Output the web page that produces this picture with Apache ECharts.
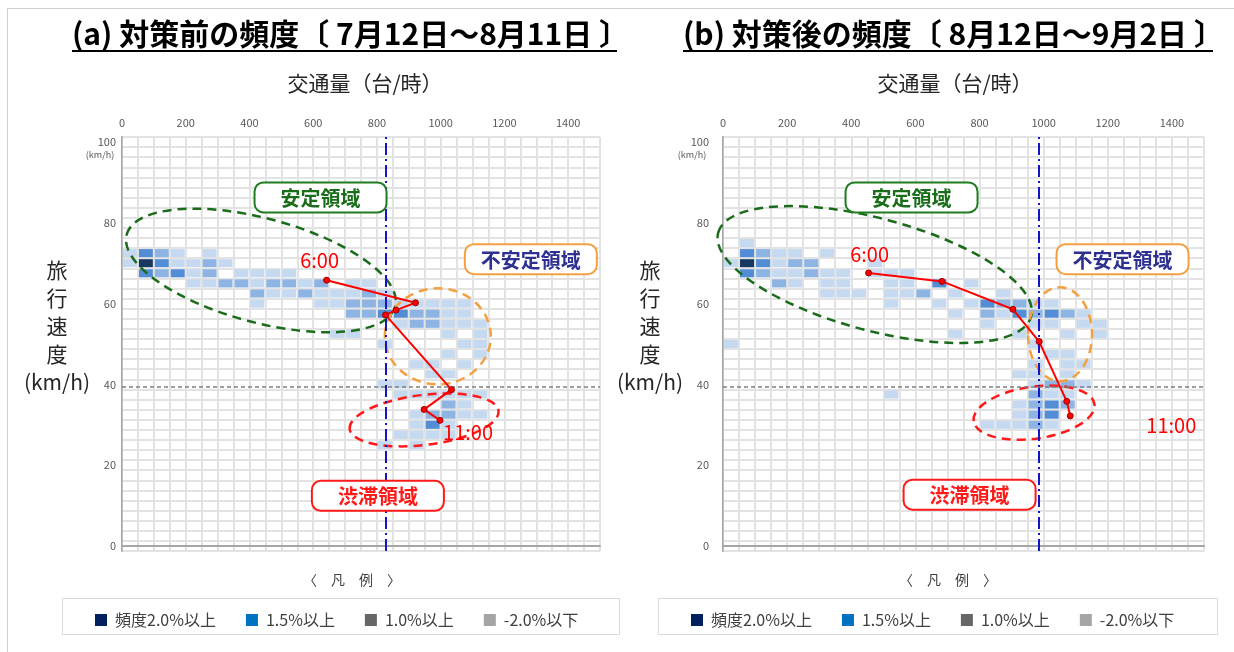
<!DOCTYPE html>
<html>
<head>
<meta charset="utf-8">
<script src="https://cdn.jsdelivr.net/npm/echarts@6/dist/echarts.min.js"></script>
<style>
  html, body { margin: 0; padding: 0; background: #fff; }
  #main { width: 1234px; height: 652px; }
</style>
</head>
<body>
<div id="main"></div>
<script>
var chartDom = document.getElementById('main');
var myChart = echarts.init(chartDom);
var option;

var FONT = '"Noto Sans CJK JP", sans-serif';

// 目盛り
var flowTicks = [0, 200, 400, 600, 800, 1000, 1200, 1400];
var speedTicks = [0, 20, 40, 60, 80, 100];

// 頻度セル [交通量(階級中央), 旅行速度(階級中央), 濃さ 1-4]
var cellsBefore = [
  [25, 72.5, 1], [75, 72.5, 3], [125, 72.5, 2], [175, 72.5, 1], [275, 72.5, 1],
  [25, 70, 1], [75, 70, 4], [125, 70, 3], [175, 70, 1], [225, 70, 1], [275, 70, 2], [325, 70, 1],
  [75, 67.5, 3], [125, 67.5, 2], [175, 67.5, 3], [225, 67.5, 1], [275, 67.5, 2], [375, 67.5, 1], [425, 67.5, 1], [475, 67.5, 1], [525, 67.5, 1],
  [225, 65, 1], [275, 65, 1], [325, 65, 2], [375, 65, 2], [425, 65, 1], [475, 65, 2], [525, 65, 2], [575, 65, 1], [625, 65, 2], [725, 65, 1], [775, 65, 1],
  [425, 62.5, 2], [475, 62.5, 1], [525, 62.5, 1], [575, 62.5, 2], [625, 62.5, 1], [675, 62.5, 1], [725, 62.5, 1], [775, 62.5, 2], [825, 62.5, 1],
  [425, 60, 1], [625, 60, 1], [675, 60, 1], [725, 60, 2], [775, 60, 2], [825, 60, 2], [875, 60, 1], [925, 60, 1], [975, 60, 1], [1025, 60, 1], [1075, 60, 1],
  [725, 57.5, 2], [775, 57.5, 2], [825, 57.5, 3], [875, 57.5, 3], [925, 57.5, 2], [975, 57.5, 2], [1025, 57.5, 1], [1075, 57.5, 1],
  [875, 55, 1], [925, 55, 2], [975, 55, 2], [1025, 55, 1], [1075, 55, 1], [1125, 55, 1],
  [675, 52.5, 1], [725, 52.5, 1], [1025, 52.5, 1], [1125, 52.5, 1],
  [825, 50, 1], [1075, 50, 1], [1125, 50, 1],
  [1025, 47.5, 1], [1125, 47.5, 1],
  [925, 45, 1], [975, 45, 1], [1075, 45, 1],
  [975, 42.5, 1], [1025, 42.5, 1],
  [825, 40, 1], [875, 40, 1],
  [875, 37.5, 1], [925, 37.5, 1], [975, 37.5, 1], [1025, 37.5, 1], [1075, 37.5, 1], [1125, 37.5, 1],
  [1025, 35, 2], [1075, 35, 1],
  [925, 32.5, 1], [975, 32.5, 2], [1025, 32.5, 2], [1075, 32.5, 1], [1125, 32.5, 1],
  [925, 30, 1], [975, 30, 3], [1025, 30, 1],
  [875, 27.5, 1], [925, 27.5, 1], [975, 27.5, 1], [1025, 27.5, 1],
  [825, 25, 1], [925, 25, 1]
];

var cellsAfter = [
  [75, 75, 1],
  [75, 72.5, 3], [125, 72.5, 2], [175, 72.5, 1], [225, 72.5, 1], [325, 72.5, 1],
  [25, 70, 1], [75, 70, 4], [125, 70, 3], [175, 70, 1], [225, 70, 2], [275, 70, 2], [475, 70, 1],
  [75, 67.5, 3], [125, 67.5, 2], [175, 67.5, 1], [225, 67.5, 1], [275, 67.5, 2], [325, 67.5, 1], [375, 67.5, 1], [475, 67.5, 1], [525, 67.5, 1], [575, 67.5, 1],
  [175, 65, 2], [225, 65, 1], [325, 65, 1], [375, 65, 1], [525, 65, 1], [575, 65, 1], [675, 65, 3], [775, 65, 1],
  [325, 62.5, 1], [375, 62.5, 1], [425, 62.5, 1], [525, 62.5, 1], [575, 62.5, 1], [625, 62.5, 2], [725, 62.5, 1], [875, 62.5, 1],
  [525, 60, 1], [675, 60, 1], [775, 60, 1], [825, 60, 3], [875, 60, 2], [925, 60, 2], [975, 60, 1], [1025, 60, 1],
  [725, 57.5, 1], [825, 57.5, 2], [875, 57.5, 1], [925, 57.5, 3], [975, 57.5, 2], [1025, 57.5, 3], [1075, 57.5, 2], [1125, 57.5, 1],
  [825, 55, 1], [975, 55, 1], [1025, 55, 1], [1125, 55, 1], [1175, 55, 1],
  [725, 52.5, 1], [925, 52.5, 1], [1075, 52.5, 1], [1175, 52.5, 1],
  [25, 50, 1], [975, 50, 1],
  [1025, 47.5, 1], [1075, 47.5, 1],
  [975, 45, 1], [1075, 45, 1], [1125, 45, 1],
  [925, 42.5, 1], [975, 42.5, 1], [1075, 42.5, 1],
  [975, 40, 1], [1025, 40, 2], [1075, 40, 2], [1125, 40, 1],
  [525, 37.5, 1], [975, 37.5, 2], [1025, 37.5, 1], [1075, 37.5, 1],
  [925, 35, 1], [975, 35, 2], [1025, 35, 3], [1075, 35, 2],
  [925, 32.5, 1], [975, 32.5, 2], [1025, 32.5, 3],
  [825, 30, 1], [875, 30, 1], [925, 30, 1], [975, 30, 2], [1025, 30, 1]
];

// 6:00〜11:00 の推移 [交通量, 旅行速度]
var pathBefore = [[642, 65.8], [921, 60.2], [860, 58.4], [827, 57.2], [1034, 38.7], [948, 33.8], [998, 31.1]];
var pathAfter = [[454, 67.6], [683, 65.5], [904, 58.6], [986, 50.6], [1072, 35.8], [1083, 32.2]];
var pathLabels = ['6:00', '11:00'];

var capacityBefore = 827;
var capacityAfter = 985;
var congestionSpeed = 39.5;

var legendNames = ['頻度2.0%以上', '1.5%以上', '1.0%以上', '-2.0%以下'];
var legendColors = ['#002060', '#0070c0', '#666666', '#a5a5a5'];
var cellColors = [null, '#c5d9f1', '#8db4e2', '#538dd5', '#17375e'];

// 領域の囲み（中心は交通量・速度で指定）
var ellipsesBefore = [
  { flow: 436, speed: 68.2, rx: 139, ry: 52, angle: -15, color: '#1a6b1a' },
  { flow: 991, speed: 51.9, rx: 53, ry: 48, angle: 0, color: '#f5a040' },
  { flow: 948, speed: 31.2, rx: 75, ry: 25, angle: 7, color: '#ff1a1a' }
];
var ellipsesAfter = [
  { flow: 473, speed: 67.2, rx: 162, ry: 56, angle: -15, color: '#1a6b1a' },
  { flow: 1051, speed: 52.4, rx: 32, ry: 47, angle: 0, color: '#f5a040' },
  { flow: 970, speed: 33, rx: 61, ry: 26, angle: 8, color: '#ff1a1a' }
];
var regionsBefore = [
  { text: '安定領域', flow: 623, speed: 86.3, color: '#1a6e1a', border: '#1e7b1e' },
  { text: '不安定領域', flow: 1283, speed: 71, color: '#2e3192', border: '#f5a040' },
  { text: '渋滞領域', flow: 803, speed: 12.4, color: '#ff1a1a', border: '#ff1a1a' }
];
var regionsAfter = [
  { text: '安定領域', flow: 588, speed: 86.3, color: '#1a6e1a', border: '#1e7b1e' },
  { text: '不安定領域', flow: 1246, speed: 71, color: '#2e3192', border: '#f5a040' },
  { text: '渋滞領域', flow: 769, speed: 12.7, color: '#ff1a1a', border: '#ff1a1a' }
];

function cellSeries(cells, xi, yi) {
  return {
    type: 'custom', xAxisIndex: xi, yAxisIndex: yi, silent: true, z: 2,
    encode: { x: 0, y: 1 },
    data: cells,
    renderItem: function (params, api) {
      var x = api.value(0), v = api.value(1);
      var p1 = api.coord([x - 25, v + 1.25]);
      var p2 = api.coord([x + 25, v - 1.25]);
      return {
        type: 'rect',
        shape: { x: p1[0] + 1, y: p1[1] + 1, width: p2[0] - p1[0] - 2, height: p2[1] - p1[1] - 2 },
        style: { fill: cellColors[api.value(2)] }
      };
    }
  };
}

function ellipseSeries(list, xi, yi) {
  return {
    type: 'custom', xAxisIndex: xi, yAxisIndex: yi, silent: true, z: 5,
    encode: { x: 0, y: 1 },
    data: list.map(function (e) { return [e.flow, e.speed]; }),
    renderItem: function (params, api) {
      var e = list[params.dataIndex];
      var c = api.coord([api.value(0), api.value(1)]);
      return {
        type: 'ellipse', x: c[0], y: c[1], rotation: e.angle * Math.PI / 180,
        shape: { cx: 0, cy: 0, rx: e.rx, ry: e.ry },
        style: { fill: 'none', stroke: e.color, lineWidth: 2.5, lineDash: [9, 6] }
      };
    }
  };
}

function regionSeries(list, xi, yi) {
  return {
    type: 'custom', xAxisIndex: xi, yAxisIndex: yi, silent: true, z: 7,
    encode: { x: 0, y: 1 },
    data: list.map(function (r) { return [r.flow, r.speed]; }),
    renderItem: function (params, api) {
      var r = list[params.dataIndex];
      var c = api.coord([api.value(0), api.value(1)]);
      return {
        type: 'group', x: c[0], y: c[1],
        children: [
          { type: 'rect', shape: { x: -66, y: -15, width: 132, height: 30, r: 9 },
            style: { fill: '#fff', stroke: r.border, lineWidth: 2 } },
          { type: 'text',
            style: { text: r.text, x: 0, y: 1, align: 'center', verticalAlign: 'middle',
                     textAlign: 'center', textVerticalAlign: 'middle',
                     fill: r.color, fontSize: 20, fontWeight: 'bold', fontFamily: FONT } }
        ]
      };
    }
  };
}

function pathSeries(path, xi, yi, offsets, vline) {
  return {
    type: 'line', xAxisIndex: xi, yAxisIndex: yi, silent: true, z: 6,
    symbol: 'circle', symbolSize: 6,
    lineStyle: { color: '#ff0000', width: 2 },
    itemStyle: { color: '#ff0000', borderColor: '#9a0000', borderWidth: 1 },
    data: path.map(function (p, i) {
      var item = { value: p };
      var last = path.length - 1;
      if (i === 0 || i === last) {
        item.label = {
          show: true, position: 'inside', offset: i === 0 ? offsets[0] : offsets[1],
          formatter: i === 0 ? pathLabels[0] : pathLabels[1],
          color: '#ff0000', fontSize: 20, fontFamily: FONT
        };
      }
      return item;
    }),
    markLine: {
      silent: true, symbol: 'none', label: { show: false }, z: 6,
      data: [
        { xAxis: vline, lineStyle: { color: '#1414c8', width: 2, type: [12, 4, 2, 4] } },
        { yAxis: congestionSpeed, lineStyle: { color: '#7f7f7f', width: 1.5, type: [4, 3] } }
      ]
    }
  };
}

function xTop(gi) {
  return {
    gridIndex: gi, type: 'value', position: 'top', min: 0, max: 1500, interval: 50,
    axisLine: { show: false }, axisTick: { show: false },
    axisLabel: { customValues: flowTicks, margin: 9, color: '#595959', fontSize: 11, fontFamily: FONT,
                 formatter: function (v) { return String(v); } },
    splitLine: { show: true, lineStyle: { color: '#e3e3e3', width: 2 } }
  };
}
function xBottom(gi) {
  return {
    gridIndex: gi, type: 'value', position: 'bottom', min: 0, max: 1500,
    axisLine: { show: true, lineStyle: { color: '#a6a6a6', width: 2 } },
    axisTick: { show: false }, axisLabel: { show: false }, splitLine: { show: false }
  };
}
function yLeft(gi, margin) {
  return {
    gridIndex: gi, type: 'value', position: 'left', min: -1.25, max: 101.25, interval: 2.5,
    axisLine: { show: true, lineStyle: { color: '#a6a6a6', width: 2 } },
    axisTick: { show: false },
    axisLabel: { customValues: speedTicks, margin: margin, color: '#595959', fontSize: 11, fontFamily: FONT },
    splitLine: { show: true, lineStyle: { color: '#e3e3e3', width: 2 } }
  };
}
function yRight(gi) {
  return {
    gridIndex: gi, type: 'value', position: 'right', min: -1.25, max: 101.25,
    axisLine: { show: true, lineStyle: { color: '#bfbfbf', width: 1 } },
    axisTick: { show: false }, axisLabel: { show: false }, splitLine: { show: false }
  };
}

function legendFor(left) {
  return {
    left: left, top: 607, data: legendNames, icon: 'rect', itemWidth: 12, itemHeight: 12,
    itemGap: 30, selectedMode: false,
    textStyle: { fontSize: 16, color: '#404040', fontFamily: FONT, padding: [0, 0, 0, 3] }
  };
}

function txt(text, x, y, size, opts) {
  opts = opts || {};
  return {
    type: 'text', silent: true,
    style: {
      text: text, x: x, y: y,
      align: opts.align || 'center', textAlign: opts.align || 'center',
      verticalAlign: 'middle', textVerticalAlign: 'middle',
      fill: opts.color || '#262626', fontSize: size, fontWeight: opts.bold ? 'bold' : 'normal',
      fontFamily: FONT, lineHeight: opts.lineHeight
    }
  };
}

var series = [
  cellSeries(cellsBefore, 0, 0),
  cellSeries(cellsAfter, 2, 2),
  ellipseSeries(ellipsesBefore, 0, 0),
  ellipseSeries(ellipsesAfter, 2, 2),
  pathSeries(pathBefore, 0, 0, [[-7, -20], [28, 12]], capacityBefore),
  pathSeries(pathAfter, 2, 2, [[1, -19], [101, 10]], capacityAfter),
  regionSeries(regionsBefore, 0, 0),
  regionSeries(regionsAfter, 2, 2)
];
legendNames.forEach(function (n, i) {
  series.push({ type: 'scatter', name: n, data: [], xAxisIndex: 0, yAxisIndex: 0,
                itemStyle: { color: legendColors[i], opacity: 1 } });
});

option = {
  animation: false,
  backgroundColor: '#ffffff',
  grid: [
    { left: 122, top: 137, width: 478, height: 414 },
    { left: 723, top: 137, width: 481, height: 414 }
  ],
  xAxis: [xTop(0), xBottom(0), xTop(1), xBottom(1)],
  yAxis: [yLeft(0, 6), yRight(0), yLeft(1, 14), yRight(1)],
  legend: [legendFor(90), legendFor(686)],
  graphic: [
    { type: 'rect', silent: true, shape: { x: 7.5, y: 8.5, width: 1240, height: 700 },
      style: { fill: 'none', stroke: '#d0d0d0', lineWidth: 1 } },
    txt('(a) 対策前の頻度〔 7月12日～8月11日 〕', 72, 34, 30, { align: 'left', bold: true, color: '#000' }),
    { type: 'line', silent: true, shape: { x1: 72, y1: 51, x2: 617, y2: 51 }, style: { stroke: '#000', lineWidth: 2 } },
    txt('(b) 対策後の頻度〔 8月12日～9月2日 〕', 683, 34, 30, { align: 'left', bold: true, color: '#000' }),
    { type: 'line', silent: true, shape: { x1: 683, y1: 51, x2: 1213, y2: 51 }, style: { stroke: '#000', lineWidth: 2 } },
    txt('交通量（台/時）', 365, 83, 21),
    txt('交通量（台/時）', 955, 83, 21),
    txt('旅\n行\n速\n度\n(km/h)', 57, 326, 21, { lineHeight: 28 }),
    txt('旅\n行\n速\n度\n(km/h)', 650, 326, 21, { lineHeight: 28 }),
    txt('(km/h)', 100, 155, 9, { color: '#595959' }),
    txt('(km/h)', 692, 155, 9, { color: '#595959' }),
    txt('〈　凡　例　〉', 352, 580, 14, { color: '#404040' }),
    txt('〈　凡　例　〉', 948, 580, 14, { color: '#404040' }),
    { type: 'rect', silent: true, shape: { x: 62.5, y: 598.5, width: 557, height: 36 },
      style: { fill: 'none', stroke: '#d9d9d9', lineWidth: 1 } },
    { type: 'rect', silent: true, shape: { x: 658.5, y: 598.5, width: 559, height: 36 },
      style: { fill: 'none', stroke: '#d9d9d9', lineWidth: 1 } }
  ],
  series: series
};

option && myChart.setOption(option);
</script>
</body>
</html>
